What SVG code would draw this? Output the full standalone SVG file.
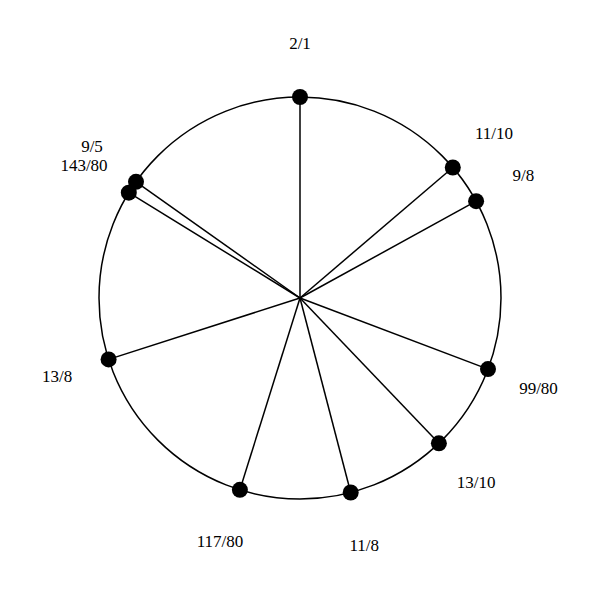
<svg xmlns="http://www.w3.org/2000/svg" width="600" height="600" viewBox="0 0 600 600">
<style>
.c{fill:none;stroke:#000;stroke-width:1.5}
.s{stroke:#000;stroke-width:1.5}
.d{fill:#000}
text{font-family:"Liberation Serif","Times New Roman",serif;font-size:17px;text-anchor:middle;fill:#000}
</style>
<rect width="600" height="600" fill="#fff"/>
<circle id="ring" class="c" cx="300" cy="298" r="201"/>
<g id="connectors">
<line class="s" x1="300" y1="298" x2="300" y2="97"/>
<line class="s" x1="300" y1="298" x2="452.8" y2="167.5"/>
<line class="s" x1="300" y1="298" x2="476.1" y2="201.2"/>
<line class="s" x1="300" y1="298" x2="488" y2="369.1"/>
<line class="s" x1="300" y1="298" x2="438.9" y2="443.3"/>
<line class="s" x1="300" y1="298" x2="350.7" y2="492.5"/>
<line class="s" x1="300" y1="298" x2="239.9" y2="489.8"/>
<line class="s" x1="300" y1="298" x2="108.6" y2="359.4"/>
<line class="s" x1="300" y1="298" x2="128.8" y2="192.7"/>
<line class="s" x1="300" y1="298" x2="136" y2="181.8"/>
</g>
<g id="n-2-1"><circle class="d" cx="300" cy="97" r="8"/><text x="300" y="49">2/1</text></g>
<g id="n-11-10"><circle class="d" cx="452.8" cy="167.5" r="8"/><text x="494" y="138.5">11/10</text></g>
<g id="n-9-8"><circle class="d" cx="476.1" cy="201.2" r="8"/><text x="523.4" y="181">9/8</text></g>
<g id="n-99-80"><circle class="d" cx="488" cy="369.1" r="8"/><text x="538.5" y="394">99/80</text></g>
<g id="n-13-10"><circle class="d" cx="438.9" cy="443.3" r="8"/><text x="476.2" y="488.4">13/10</text></g>
<g id="n-11-8"><circle class="d" cx="350.7" cy="492.5" r="8"/><text x="364.3" y="550.8">11/8</text></g>
<g id="n-117-80"><circle class="d" cx="239.9" cy="489.8" r="8"/><text x="220" y="547.3">117/80</text></g>
<g id="n-13-8"><circle class="d" cx="108.6" cy="359.4" r="8"/><text x="57.2" y="382">13/8</text></g>
<g id="n-143-80"><circle class="d" cx="128.8" cy="192.7" r="8"/><text x="84" y="171">143/80</text></g>
<g id="n-9-5"><circle class="d" cx="136" cy="181.8" r="8"/><text x="92" y="152">9/5</text></g>
</svg>
